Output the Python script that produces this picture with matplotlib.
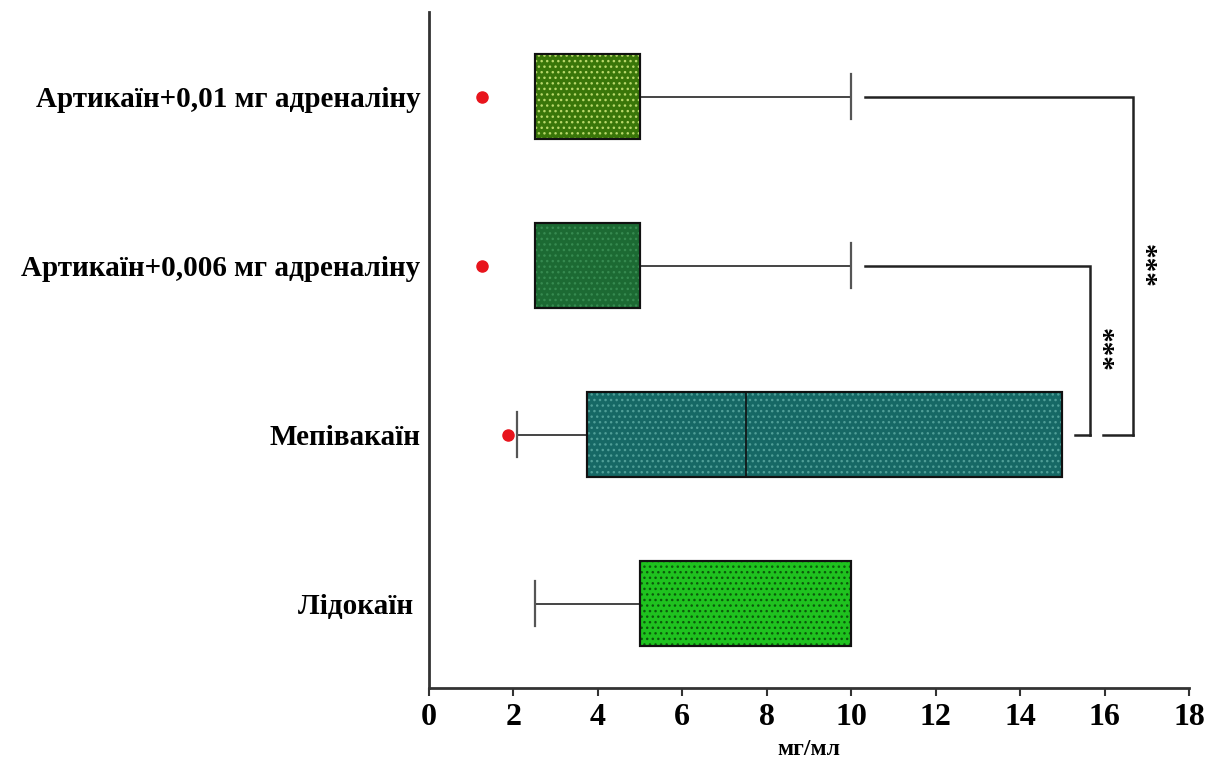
import matplotlib
matplotlib.use("Agg")
import matplotlib.pyplot as plt
from matplotlib.patches import PathPatch

# ---- data (mg/ml) ----
categories = ["Лідокаїн ", "Мепівакаїн", "Артикаїн+0,006 мг адреналіну", "Артикаїн+0,01 мг адреналіну"]
q1 = [5.0, 3.75, 2.5, 2.5]
median = [5.0, 7.5, 2.5, 2.5]
q3 = [10.0, 15.0, 5.0, 5.0]
whisker_low = [2.5, 2.08, 2.5, 2.5]
whisker_high = [10.0, 15.0, 10.0, 10.0]
outliers = [[], [1.88], [1.25], [1.25]]
xticks = [0, 2, 4, 6, 8, 10, 12, 14, 16, 18]

# significance comparisons: (group a, group b, label)
comparisons = [(2, 1, "***"), (3, 1, "***")]

face_colors = ["#1fc21f", "#166865", "#1c6a33", "#397609"]
dot_colors = ["#0b5a0b", "#4f9e97", "#368a50", "#b9d86a"]

plt.rcParams["font.family"] = ["Liberation Serif", "DejaVu Serif"]
plt.rcParams["font.weight"] = "bold"
plt.rcParams["hatch.linewidth"] = 1.0

fig = plt.figure(figsize=(12.09, 7.63), dpi=100)
ax = fig.add_axes([0.3548, 0.0983, 0.6287, 0.8857])

stats = []
for i in range(len(categories)):
    stats.append(dict(med=median[i], q1=q1[i], q3=q3[i],
                      whislo=whisker_low[i], whishi=whisker_high[i],
                      fliers=outliers[i], label=categories[i]))

positions = list(range(len(categories)))
bp = ax.bxp(stats, positions=positions, widths=0.5, orientation="horizontal",
            patch_artist=True, capwidths=0.27,
            boxprops=dict(linewidth=1.5, edgecolor="#111111"),
            medianprops=dict(color="#111111", linewidth=1.2),
            whiskerprops=dict(color="#444444", linewidth=1.4),
            capprops=dict(color="#555555", linewidth=1.6),
            flierprops=dict(marker="o", markerfacecolor="#e8141c",
                            markeredgecolor="#e8141c", markersize=8))

for i, box in enumerate(bp["boxes"]):
    box.set_facecolor(face_colors[i])
    box.set_zorder(2)
    dots = PathPatch(box.get_path(), facecolor="none", edgecolor=dot_colors[i],
                     hatch="...", linewidth=0, zorder=2.1)
    ax.add_patch(dots)
    outline = PathPatch(box.get_path(), facecolor="none", edgecolor="#111111",
                        linewidth=1.5, zorder=2.2)
    ax.add_patch(outline)

# hide caps for zero-length whiskers
for i in range(len(categories)):
    if whisker_low[i] >= q1[i]:
        bp["caps"][2 * i].set_visible(False)
    if whisker_high[i] <= q3[i]:
        bp["caps"][2 * i + 1].set_visible(False)
for m in bp["medians"]:
    m.set_zorder(2.3)

# significance brackets
bracket_x = [15.66, 16.68]
foot_len = [0.36, 0.71]
for k, (a, b, lab) in enumerate(comparisons):
    xb = bracket_x[k]
    start = whisker_high[a] + 0.33
    ax.plot([start, xb, xb], [a, a, b], color="#222222", lw=1.8,
            solid_joinstyle="miter", clip_on=False)
    ax.plot([xb - foot_len[k], xb], [b, b], color="#222222", lw=1.8,
            clip_on=False)
    ax.text(xb + 0.24, (a + b) / 2, lab, rotation=-90,
            ha="center", va="center", fontsize=21, fontweight="bold")

ax.set_xlim(0, 18)
ax.set_ylim(-0.5, 3.5)
ax.set_xticks(xticks)
ax.set_xticklabels([str(t) for t in xticks], fontsize=23, fontweight="bold")
ax.set_yticks(positions)
ax.set_yticklabels(categories, fontsize=21, fontweight="bold")
ax.tick_params(axis="y", length=0, pad=6)
ax.tick_params(axis="x", length=6, width=1.5, color="#333333", pad=5)
ax.set_xlabel("мг/мл", fontsize=17, fontweight="bold", labelpad=5)

for s in ("top", "right"):
    ax.spines[s].set_visible(False)
for s in ("left", "bottom"):
    ax.spines[s].set_linewidth(2)
    ax.spines[s].set_color("#333333")

fig.savefig("out.png", dpi=100)
